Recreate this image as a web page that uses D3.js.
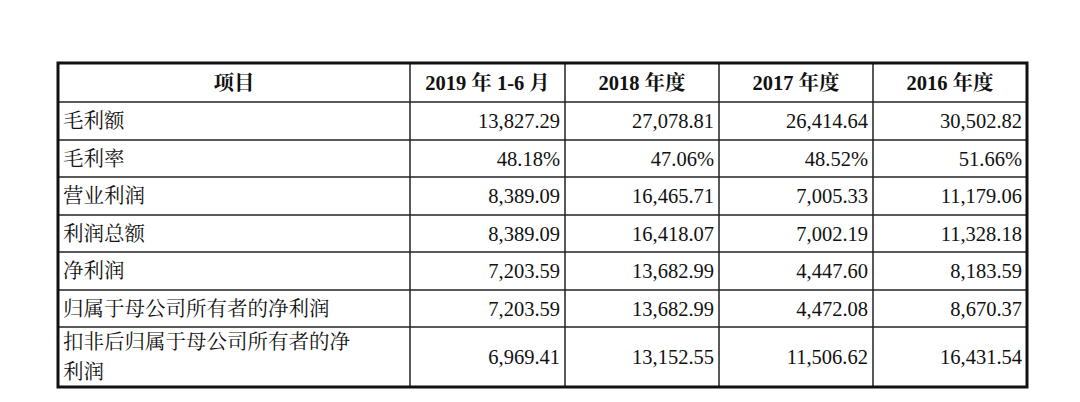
<!DOCTYPE html><html><head><meta charset="utf-8">
<script src="https://cdn.jsdelivr.net/npm/d3@7"></script>
<style>body{margin:0;background:#fff}</style></head><body>
<svg id="c" width="1080" height="402"></svg>
<script>
const headers=["项目","2019 年 1-6 月","2018 年度","2017 年度","2016 年度"];
const items=["毛利额","毛利率","营业利润","利润总额","净利润","归属于母公司所有者的净利润","扣非后归属于母公司所有者的净|利润"];
const v2019=["13,827.29","48.18%","8,389.09","8,389.09","7,203.59","7,203.59","6,969.41"];
const v2018=["27,078.81","47.06%","16,465.71","16,418.07","13,682.99","13,682.99","13,152.55"];
const v2017=["26,414.64","48.52%","7,005.33","7,002.19","4,447.60","4,472.08","11,506.62"];
const v2016=["30,502.82","51.66%","11,179.06","11,328.18","8,183.59","8,670.37","16,431.54"];
const cols=[v2019,v2018,v2017,v2016];
const svg=d3.select("#c");
const xs=[58,410,565,719,873,1027];
const ys=[63,102,140,177,215,252,290,327,387];
const font='"Liberation Serif","Times New Roman","Noto Serif CJK SC","Noto Sans CJK SC",serif';
const g=svg.append("g").attr("font-family",font).attr("font-size",20.5).attr("fill","#111");
ys.slice(1,-1).forEach(y=>g.append("line").attr("x1",xs[0]).attr("x2",xs[5]).attr("y1",y).attr("y2",y).attr("stroke","#222").attr("stroke-width",1.5));
xs.slice(1,-1).forEach(x=>g.append("line").attr("x1",x).attr("x2",x).attr("y1",ys[0]).attr("y2",ys[8]).attr("stroke","#222").attr("stroke-width",1.5));
g.append("rect").attr("x",xs[0]).attr("y",ys[0]).attr("width",xs[5]-xs[0]).attr("height",ys[8]-ys[0]).attr("fill","none").attr("stroke","#111").attr("stroke-width",3);
headers.forEach((h,i)=>{
  g.append("text").attr("x",(xs[i]+xs[i+1])/2).attr("y",(ys[0]+ys[1])/2+7).attr("text-anchor","middle").attr("font-weight","bold").attr("xml:space","preserve").text(h);
});
items.forEach((it,r)=>{
  const parts=it.split("|");
  const cy=(ys[r+1]+ys[r+2])/2;
  parts.forEach((p,k)=>g.append("text").attr("x",xs[0]+5).attr("y",cy+7+(k-(parts.length-1)/2)*30).text(p));
  cols.forEach((c,j)=>g.append("text").attr("x",xs[j+2]-5).attr("y",cy+7).attr("text-anchor","end").text(c[r]));
});
</script></body></html>
